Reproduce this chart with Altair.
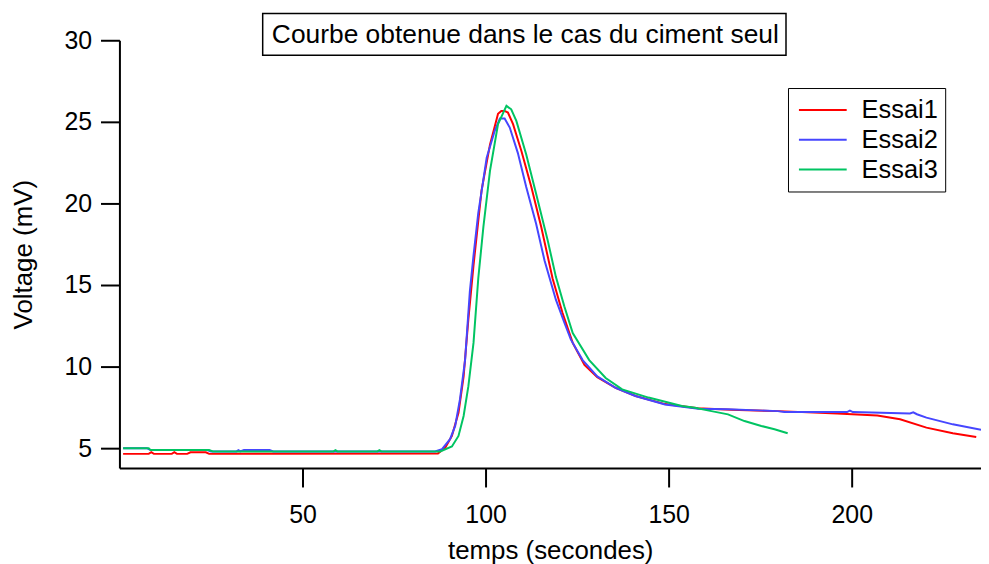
import altair as alt
import pandas as pd

FONT = "Liberation Sans"
TITLE = "Courbe obtenue dans le cas du ciment seul"
SERIES = ["Essai1", "Essai2", "Essai3"]
COLORS = ["#ff0000", "#4646ff", "#00c462"]
X_TICKS = [50, 100, 150, 200]
Y_TICKS = [5, 10, 15, 20, 25, 30]

t1 = [1.0, 8.0, 8.7, 9.4, 14.3, 15.0, 15.7, 18.5, 19.4, 23.6, 24.5, 87.0, 89.0, 90.8, 92.6,
      94.0, 95.3, 96.7, 98.9, 101.2, 103.4, 104.3, 105.2, 106.1, 107.5, 109.8, 112.5, 115.2,
      118.3, 121.0, 123.8, 127.0, 130.5, 135.5, 141.0, 149.0, 158.0, 167.0, 180.0, 196.0,
      207.0, 213.2, 220.4, 227.6, 234.0]
v1 = [4.65, 4.65, 4.75, 4.65, 4.65, 4.75, 4.65, 4.65, 4.75, 4.75, 4.65, 4.68, 5.04, 5.75, 7.17,
      9.4, 12.9, 16.2, 20.8, 23.6, 25.5, 25.67, 25.67, 25.57, 24.86, 23.2, 21.0, 18.56,
      15.4, 13.3, 11.45, 10.1, 9.35, 8.7, 8.2, 7.7, 7.45, 7.35, 7.27, 7.13,
      7.0, 6.77, 6.26, 5.91, 5.69]

t2 = [1.0, 7.5, 8.5, 24.0, 25.0, 32.0, 32.5, 33.0, 34.0, 41.0, 42.0, 86.2, 88.1, 90.3, 91.7,
      93.0, 94.4, 95.7, 96.7, 98.0, 100.3, 102.5, 103.9, 105.2, 106.6, 108.8, 111.1, 113.8,
      116.1, 119.2, 121.5, 123.3, 126.5, 130.5, 135.5, 140.9, 149.0, 158.1, 166.2, 179.8,
      181.6, 198.7, 199.5, 200.3, 215.9, 216.8, 217.8, 220.4, 227.6, 235.3]
v2 = [5.0, 5.0, 4.88, 4.88, 4.8, 4.8, 4.88, 4.8, 4.88, 4.88, 4.8, 4.8, 4.94, 5.55, 6.36,
      7.99, 10.4, 14.6, 16.8, 19.4, 22.8, 24.45, 25.2, 25.2, 24.65, 23.1, 21.0, 18.76,
      16.5, 14.1, 12.7, 11.65, 10.4, 9.4, 8.7, 8.2, 7.68, 7.42, 7.38, 7.27,
      7.21, 7.21, 7.3, 7.21, 7.13, 7.2, 7.08, 6.87, 6.46, 6.12]

t3 = [1.0, 8.0, 8.5, 24.5, 25.5, 58.5, 59.0, 59.5, 70.5, 71.0, 71.5, 87.6, 90.8, 92.6, 94.0,
      95.3, 96.7, 98.0, 99.4, 101.2, 103.4, 105.7, 107.0, 108.4, 111.1, 113.8, 117.0, 119.2,
      121.5, 123.8, 128.3, 132.8, 137.3, 144.5, 153.6, 157.2, 161.7, 166.2, 170.7, 175.3,
      178.9, 182.5]
v3 = [5.0, 5.0, 4.88, 4.88, 4.8, 4.8, 4.88, 4.8, 4.8, 4.88, 4.8, 4.8, 5.1, 5.75, 6.97,
      8.8, 11.45, 15.4, 18.56, 22.0, 24.86, 25.98, 25.77, 25.06, 23.0, 20.6, 17.7, 15.5,
      13.7, 12.05, 10.4, 9.3, 8.6, 8.1, 7.58, 7.48, 7.27, 7.07, 6.66, 6.36,
      6.16, 5.91]

rows = []
for name, ts, vs in zip(SERIES, [t1, t2, t3], [v1, v2, v3]):
    for i, (t, v) in enumerate(zip(ts, vs)):
        rows.append({"temps": t, "voltage": v, "essai": name, "i": i})
df = pd.DataFrame(rows)

lines = alt.Chart(df).mark_line(strokeWidth=2, clip=True).encode(
    x=alt.X("temps:Q",
            scale=alt.Scale(domain=[0, 235.3], nice=False, zero=False),
            axis=alt.Axis(values=X_TICKS, title="temps (secondes)", titlePadding=10,
                          labelPadding=16, tickSize=19)),
    y=alt.Y("voltage:Q",
            scale=alt.Scale(domain=[3.78, 30], nice=False, zero=False),
            axis=alt.Axis(values=Y_TICKS, title="Voltage (mV)", titlePadding=28,
                          labelPadding=9, tickSize=19)),
    color=alt.Color("essai:N",
                    scale=alt.Scale(domain=SERIES, range=COLORS),
                    legend=alt.Legend(orient="none", legendX=672, legendY=48, title=None,
                                      symbolType="stroke", symbolSize=2304,
                                      symbolStrokeWidth=2, labelFontSize=25.5, labelFont=FONT,
                                      labelColor="black", padding=7, strokeColor="black",
                                      fillColor="white", clipHeight=30, rowPadding=0,
                                      symbolOffset=3, labelOffset=14)),
    order="i:Q",
)

title_df = pd.DataFrame({"label": [TITLE]})
box = alt.Chart(title_df).mark_rect(fill="white", stroke="black", strokeWidth=1.5).encode(
    x=alt.value(144), x2=alt.value(670), y=alt.value(-27), y2=alt.value(15))
title_text = alt.Chart(title_df).mark_text(
    fontSize=26.5, font=FONT, color="black", align="center", baseline="middle").encode(
    x=alt.value(408), y=alt.value(-5), text="label:N")

chart = alt.layer(lines, box, title_text).properties(
    width=866, height=430,
    autosize=alt.AutoSizeParams(type="none"),
    padding={"left": 112, "top": 31, "right": 0, "bottom": 96},
).configure_view(stroke=None).configure_axis(
    grid=False, domainColor="black", domainWidth=2, tickColor="black", tickWidth=2,
    labelFontSize=25, labelFont=FONT, labelColor="black",
    titleFontSize=26, titleFont=FONT, titleColor="black", titleFontWeight="normal",
)

chart.save("out.html", embed_options={"renderer": "svg", "actions": False})
